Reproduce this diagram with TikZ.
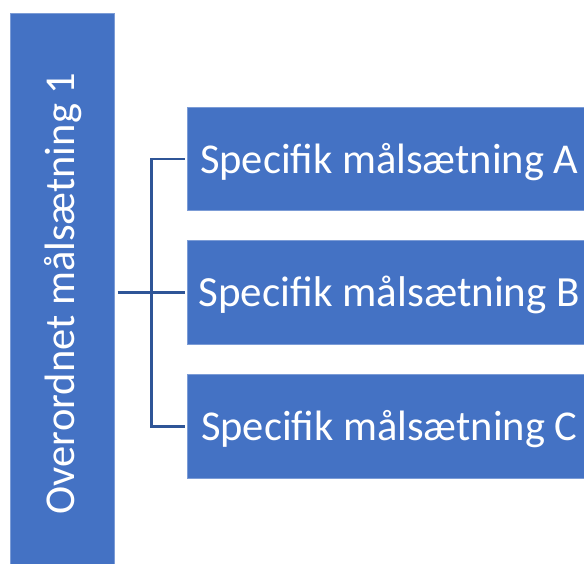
\documentclass[tikz,border=0pt]{standalone}
\usepackage{fontspec}
\setmainfont{Carlito}
\definecolor{boxblue}{HTML}{4472C4}
\definecolor{lineblue}{HTML}{2F5597}
\begin{document}
\begin{tikzpicture}[x=1pt,y=-1pt,
  box/.style={fill=boxblue,draw=boxblue!70!white,line width=0.8pt,inner sep=0pt,text=white},
  bigtext/.style={font=\fontsize{42.5}{44}\selectfont},
  conn/.style={draw=lineblue,line width=2.6pt}]
\useasboundingbox (0,0) rectangle (584,564);
\clip (0,0) rectangle (584,564);
\node[box,minimum width=104pt,minimum height=551pt] (L) at (62.7,288.5) {};
\node[bigtext,text=white,rotate=90,inner sep=0pt] (Lt) at (63,293.5) {Overordnet målsætning 1};
\node[box,bigtext,text depth=2pt,minimum width=404pt,minimum height=103.4pt] (A) at (389.3,159) {Specifik målsætning A};
\node[box,bigtext,text depth=2pt,font=\fontsize{43}{44}\selectfont,minimum width=404pt,minimum height=103.4pt] (B) at (389.3,292.3) {Specifik målsætning B};
\node[box,bigtext,text depth=2pt,minimum width=404pt,minimum height=104.3pt] (C) at (389.3,426.2) {Specifik målsætning C};
\coordinate (J) at (151.5,292.3);
\draw[conn,shorten <=2.3pt,shorten >=2.3pt] (A.west) -- (A.west -| J) -- (C.west -| J) -- (C.west);
\draw[conn,shorten <=2.6pt,shorten >=2.3pt] (L.east |- B.west) -- (B.west);
\end{tikzpicture}
\end{document}
